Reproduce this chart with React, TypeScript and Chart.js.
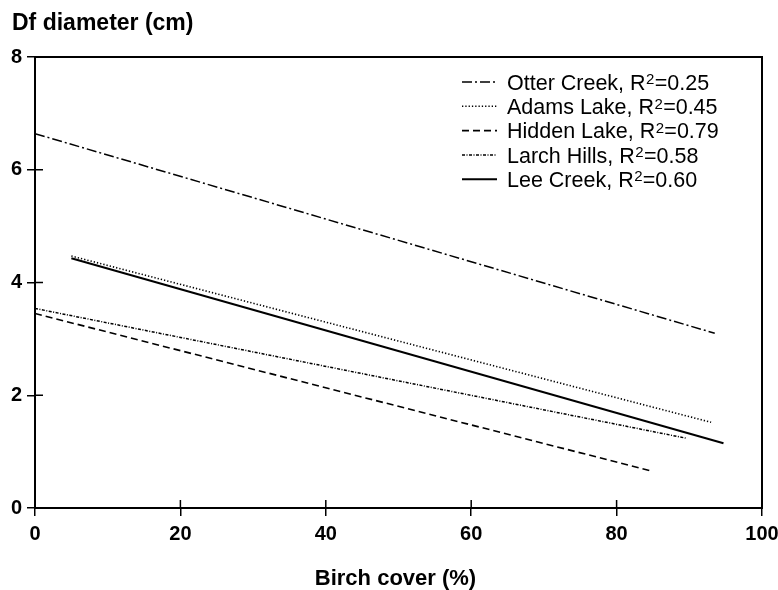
import React, { useEffect, useRef } from 'react';
import { Chart, registerables } from 'chart.js';

Chart.register(...registerables);

// ---- data ----
const seriesNames = ['Otter Creek', 'Adams Lake', 'Hidden Lake', 'Larch Hills', 'Lee Creek'];
const rSquaredLabels = ['0.25', '0.45', '0.79', '0.58', '0.60'];
const otterCreek = [{ x: 0, y: 6.64 }, { x: 93.5, y: 3.1 }];
const adamsLake = [{ x: 5, y: 4.47 }, { x: 93, y: 1.52 }];
const hiddenLake = [{ x: 0, y: 3.45 }, { x: 85, y: 0.65 }];
const larchHills = [{ x: 0, y: 3.54 }, { x: 89.5, y: 1.24 }];
const leeCreek = [{ x: 5, y: 4.43 }, { x: 94.7, y: 1.15 }];
const seriesData = [otterCreek, adamsLake, hiddenLake, larchHills, leeCreek];
const xTickValues = [0, 20, 40, 60, 80, 100];
const yTickValues = [0, 2, 4, 6, 8];
const xAxisTitle = 'Birch cover (%)';
const yAxisTitle = 'Df diameter (cm)';

// ---- styles ----
const FONT = '"Liberation Sans", Arial, Helvetica, sans-serif';
const dashStyles = [[10, 3, 2, 3], [1.3, 2], [7, 4], [3, 1.5, 1, 1.5], []];
const lineWidths = [1.5, 1.6, 1.6, 1.5, 2];

const decorPlugin = {
  id: 'decor',
  afterDraw(chart: any) {
    const { ctx, chartArea: a, scales } = chart;
    ctx.save();
    ctx.strokeStyle = '#000';
    ctx.setLineDash([]);
    // frame
    ctx.lineWidth = 2;
    ctx.strokeRect(a.left, a.top, a.right - a.left, a.bottom - a.top);
    // inward tick parts
    ctx.lineWidth = 1.5;
    ctx.beginPath();
    for (const v of xTickValues) {
      const px = scales.x.getPixelForValue(v);
      ctx.moveTo(px, a.bottom);
      ctx.lineTo(px, a.bottom - 8);
    }
    for (const v of yTickValues) {
      const py = scales.y.getPixelForValue(v);
      ctx.moveTo(a.left, py);
      ctx.lineTo(a.left + 8, py);
    }
    ctx.stroke();

    // titles
    ctx.fillStyle = '#000';
    ctx.textBaseline = 'alphabetic';
    ctx.textAlign = 'left';
    ctx.font = `bold 23px ${FONT}`;
    ctx.fillText(yAxisTitle, 12, 29.5);
    ctx.textAlign = 'center';
    ctx.font = `bold 22px ${FONT}`;
    ctx.fillText(xAxisTitle, (a.left + a.right) / 2 - 3, 585);

    // legend
    const lx0 = 462, lx1 = 497, tx = 507;
    let y = 82;
    const step = 24.3;
    chart.data.datasets.forEach((ds: any, i: number) => {
      ctx.strokeStyle = '#000';
      ctx.lineWidth = ds.borderWidth;
      ctx.setLineDash(ds.borderDash || []);
      ctx.beginPath();
      ctx.moveTo(lx0, y);
      ctx.lineTo(lx1, y);
      ctx.stroke();
      ctx.setLineDash([]);
      const base = y + 7.7;
      ctx.textAlign = 'left';
      ctx.font = `21.5px ${FONT}`;
      const part1 = `${seriesNames[i]}, R`;
      ctx.fillText(part1, tx, base);
      let x = tx + ctx.measureText(part1).width + 0.5;
      ctx.font = `15px ${FONT}`;
      ctx.fillText('2', x, base - 5.5);
      x += ctx.measureText('2').width + 0.3;
      ctx.font = `21.5px ${FONT}`;
      ctx.fillText(`=${rSquaredLabels[i]}`, x, base);
      y += step;
    });
    ctx.restore();
  },
};

export default function App() {
  const ref = useRef<HTMLCanvasElement | null>(null);
  useEffect(() => {
    if (!ref.current) return;
    Chart.defaults.font.family = FONT;
    const tickFont = { family: FONT, size: 20, weight: 'bold' as const };
    const chart = new Chart(ref.current, {
      type: 'line',
      data: {
        datasets: seriesData.map((d, i) => ({
          label: seriesNames[i],
          data: d,
          borderColor: '#000',
          borderWidth: lineWidths[i],
          borderDash: dashStyles[i],
          pointRadius: 0,
          fill: false,
          tension: 0,
        })),
      },
      options: {
        animation: false,
        responsive: false,
        maintainAspectRatio: false,
        layout: { padding: { top: 57, right: 16, left: 0, bottom: 0 } },
        plugins: {
          legend: { display: false },
          title: { display: false },
          tooltip: { enabled: false },
        },
        scales: {
          x: {
            type: 'linear',
            min: 0,
            max: 100,
            afterFit(s: any) { s.height = 82; s.paddingLeft = 0; s.paddingRight = 0; },
            afterBuildTicks(s: any) { s.ticks = xTickValues.map((v) => ({ value: v })); },
            ticks: { color: '#000', font: tickFont, padding: 6, maxRotation: 0, autoSkip: false },
            grid: { drawOnChartArea: false, drawTicks: true, tickLength: 8, color: '#000', lineWidth: 1.5 },
            border: { display: true, color: '#000', width: 2 },
          },
          y: {
            type: 'linear',
            min: 0,
            max: 8,
            afterFit(s: any) { s.width = 35; s.paddingTop = 0; s.paddingBottom = 0; },
            afterBuildTicks(s: any) { s.ticks = yTickValues.map((v) => ({ value: v })); },
            ticks: { color: '#000', font: tickFont, padding: 5, autoSkip: false },
            grid: { drawOnChartArea: false, drawTicks: true, tickLength: 8, color: '#000', lineWidth: 1.5 },
            border: { display: true, color: '#000', width: 2 },
          },
        },
      },
      plugins: [decorPlugin],
    });
    return () => chart.destroy();
  }, []);
  return (
    <div style={{ position: 'absolute', left: 0, top: 0, width: 778, height: 590, background: '#fff' }}>
      <canvas ref={ref} width={778} height={590} />
    </div>
  );
}
